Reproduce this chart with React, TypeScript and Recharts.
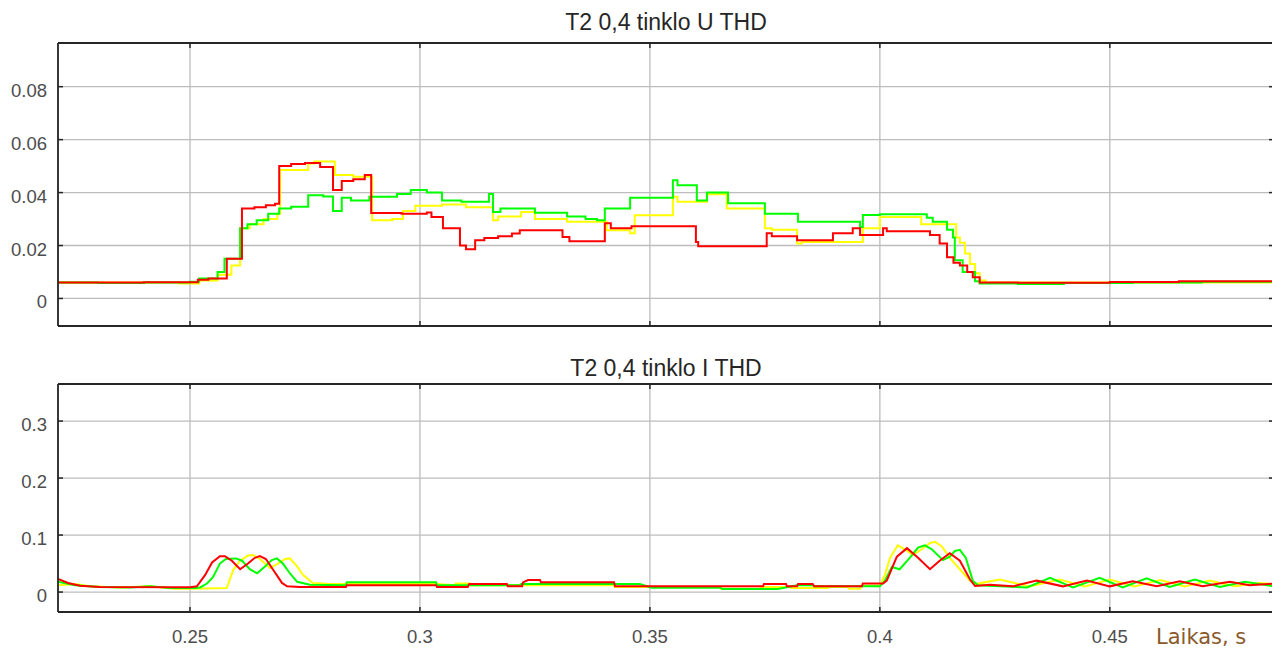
import React from "react";
import { LineChart, Line, XAxis, YAxis, CartesianGrid } from "recharts";

const X_MIN = 0.2213;
const X_MAX = 0.4857;
const X_TICKS = [0.25, 0.3, 0.35, 0.4, 0.45];

const U_Y_DOMAIN = [-0.0104, 0.0965];
const U_Y_TICKS = [0, 0.02, 0.04, 0.06, 0.08];
const I_Y_DOMAIN = [-0.035, 0.365];
const I_Y_TICKS = [0, 0.1, 0.2, 0.3];

const U_TITLE = "T2 0,4 tinklo U THD";
const I_TITLE = "T2 0,4 tinklo I THD";
const X_LABEL = "Laikas, s";

// [time (s), THD] — voltage THD, held between samples
const U_RED = [
  [0.2213, 0.006], [0.24, 0.0061], [0.2517, 0.0071], [0.254, 0.0075], [0.258, 0.015],
  [0.2613, 0.034], [0.264, 0.0345], [0.2665, 0.0352], [0.2685, 0.0358], [0.2694, 0.05],
  [0.272, 0.0508], [0.275, 0.0512], [0.2783, 0.0497], [0.2811, 0.041], [0.283, 0.0444],
  [0.2855, 0.045], [0.288, 0.0466], [0.2894, 0.0323], [0.296, 0.032], [0.3015, 0.0325],
  [0.3025, 0.0308], [0.305, 0.0265], [0.3087, 0.02], [0.31, 0.0186], [0.312, 0.022],
  [0.314, 0.0228], [0.317, 0.0235], [0.32, 0.0245], [0.3217, 0.0258], [0.331, 0.0232],
  [0.3325, 0.0216], [0.3402, 0.0284], [0.3415, 0.0265], [0.346, 0.0273], [0.36, 0.0213],
  [0.3605, 0.0197], [0.3754, 0.0246], [0.3765, 0.0235], [0.382, 0.022], [0.3898, 0.0246],
  [0.3941, 0.0265], [0.3957, 0.024], [0.4007, 0.0265], [0.4015, 0.0254], [0.4109, 0.024],
  [0.413, 0.0208], [0.4146, 0.0156], [0.416, 0.0135], [0.4174, 0.0125], [0.419, 0.01],
  [0.4202, 0.008], [0.4217, 0.006], [0.43, 0.0059], [0.45, 0.0062], [0.465, 0.0065],
  [0.4857, 0.0065],
];

const U_YEL = [
  [0.2213, 0.006], [0.2475, 0.0057], [0.252, 0.0068], [0.256, 0.009], [0.259, 0.0125],
  [0.2609, 0.0265], [0.263, 0.028], [0.266, 0.03], [0.269, 0.032], [0.2696, 0.0485],
  [0.2757, 0.051], [0.277, 0.0517], [0.2815, 0.0466], [0.2855, 0.046], [0.2896, 0.0295],
  [0.294, 0.03], [0.2963, 0.033], [0.299, 0.035], [0.3048, 0.0355], [0.31, 0.0345],
  [0.3159, 0.0295], [0.317, 0.031], [0.322, 0.0327], [0.325, 0.03], [0.332, 0.029],
  [0.3406, 0.0258], [0.3457, 0.0246], [0.3467, 0.0314], [0.355, 0.0384], [0.356, 0.0365],
  [0.3624, 0.0394], [0.3667, 0.034], [0.375, 0.0265], [0.3765, 0.026], [0.382, 0.0208],
  [0.383, 0.0213], [0.3963, 0.0265], [0.4, 0.0308], [0.409, 0.028], [0.4159, 0.028],
  [0.4166, 0.023], [0.4174, 0.021], [0.4185, 0.017], [0.4196, 0.013], [0.4207, 0.0095],
  [0.4217, 0.0068], [0.423, 0.006], [0.4857, 0.006],
];

const U_GRN = [
  [0.2213, 0.006], [0.23, 0.0058], [0.24, 0.006], [0.25, 0.0063], [0.252, 0.0075],
  [0.256, 0.01], [0.2575, 0.015], [0.2609, 0.0265], [0.2625, 0.028], [0.2645, 0.0295],
  [0.267, 0.032], [0.2694, 0.034], [0.272, 0.0346], [0.2757, 0.039], [0.279, 0.0385],
  [0.2811, 0.033], [0.283, 0.038], [0.285, 0.037], [0.289, 0.0384], [0.295, 0.0395],
  [0.298, 0.041], [0.3015, 0.04], [0.3048, 0.037], [0.309, 0.0365], [0.315, 0.0395],
  [0.3159, 0.0327], [0.3175, 0.034], [0.325, 0.0324], [0.332, 0.031], [0.336, 0.03],
  [0.3385, 0.0295], [0.3402, 0.034], [0.3457, 0.038], [0.355, 0.0447], [0.356, 0.0428],
  [0.3602, 0.037], [0.3624, 0.04], [0.367, 0.036], [0.375, 0.032], [0.3822, 0.029],
  [0.3957, 0.027], [0.3963, 0.0315], [0.4, 0.0318], [0.4102, 0.0305], [0.4115, 0.029],
  [0.4146, 0.026], [0.4159, 0.023], [0.4163, 0.0144], [0.418, 0.01], [0.4207, 0.0065],
  [0.4217, 0.0057], [0.43, 0.0055], [0.44, 0.0058], [0.455, 0.006], [0.47, 0.0063],
  [0.4857, 0.0062],
];

// [time (s), THD] — current THD
const I_RED = [
  [0.2213, 0.023], [0.2235, 0.016], [0.2261, 0.011], [0.2304, 0.0088], [0.25, 0.0085],
  [0.2515, 0.01], [0.2533, 0.03], [0.2548, 0.052], [0.2565, 0.063], [0.2576, 0.063],
  [0.2591, 0.055], [0.2609, 0.04], [0.2626, 0.05], [0.2641, 0.06], [0.2652, 0.063],
  [0.2665, 0.058], [0.268, 0.04], [0.27, 0.016], [0.2711, 0.01], [0.2739, 0.009],
  [0.2839, 0.009], [0.2841, 0.012], [0.3035, 0.012], [0.3037, 0.009], [0.3104, 0.009],
  [0.3107, 0.014], [0.3189, 0.014], [0.3191, 0.01], [0.3222, 0.01], [0.3224, 0.017],
  [0.3235, 0.021], [0.3261, 0.021], [0.3263, 0.017], [0.3422, 0.017], [0.3424, 0.01],
  [0.3746, 0.01], [0.3748, 0.014], [0.3796, 0.014], [0.3798, 0.01], [0.382, 0.01],
  [0.3822, 0.014], [0.3854, 0.014], [0.3857, 0.01], [0.3961, 0.01], [0.3963, 0.015],
  [0.4007, 0.015], [0.4015, 0.02], [0.4037, 0.062], [0.4059, 0.077], [0.4083, 0.06],
  [0.4109, 0.04], [0.413, 0.055], [0.4152, 0.068], [0.4174, 0.055], [0.4196, 0.022],
  [0.4207, 0.0105], [0.4239, 0.013], [0.4289, 0.01], [0.4341, 0.02], [0.4398, 0.01],
  [0.445, 0.02], [0.45, 0.01], [0.455, 0.019], [0.4602, 0.01], [0.4652, 0.019],
  [0.4702, 0.01], [0.4761, 0.018], [0.4804, 0.012], [0.4857, 0.015],
];

const I_GRN = [
  [0.2213, 0.018], [0.225, 0.012], [0.2304, 0.009], [0.237, 0.008], [0.2413, 0.01],
  [0.2457, 0.007], [0.2511, 0.007], [0.2522, 0.008], [0.2537, 0.015], [0.255, 0.026],
  [0.2565, 0.05], [0.2578, 0.058], [0.26, 0.059], [0.2613, 0.055], [0.263, 0.04],
  [0.2646, 0.033], [0.2663, 0.045], [0.2678, 0.056], [0.2689, 0.059], [0.2702, 0.05],
  [0.2717, 0.033], [0.2733, 0.018], [0.2761, 0.013], [0.2839, 0.012], [0.2841, 0.017],
  [0.3035, 0.017], [0.3037, 0.012], [0.3217, 0.012], [0.322, 0.014], [0.3478, 0.014],
  [0.3504, 0.0075], [0.3654, 0.0075], [0.3657, 0.0055], [0.3778, 0.0055], [0.382, 0.012],
  [0.3854, 0.012], [0.3857, 0.01], [0.4, 0.01], [0.4011, 0.02], [0.4026, 0.044],
  [0.4043, 0.04], [0.4065, 0.06], [0.4083, 0.078], [0.4098, 0.082], [0.4113, 0.075],
  [0.4137, 0.056], [0.4152, 0.062], [0.4163, 0.072], [0.4174, 0.074], [0.4187, 0.06],
  [0.4202, 0.02], [0.4213, 0.012], [0.4261, 0.01], [0.432, 0.008], [0.437, 0.025],
  [0.442, 0.008], [0.4478, 0.025], [0.4528, 0.008], [0.458, 0.024], [0.463, 0.009],
  [0.4685, 0.022], [0.4739, 0.009], [0.4794, 0.018], [0.4857, 0.01],
];

const I_YEL = [
  [0.2213, 0.012], [0.225, 0.014], [0.2283, 0.01], [0.2348, 0.008], [0.2413, 0.01],
  [0.2467, 0.006], [0.25, 0.006], [0.258, 0.007], [0.2594, 0.039], [0.2609, 0.055],
  [0.2626, 0.064], [0.2637, 0.065], [0.2652, 0.058], [0.2674, 0.042], [0.2691, 0.05],
  [0.2707, 0.058], [0.2717, 0.059], [0.2733, 0.045], [0.2746, 0.03], [0.2767, 0.016],
  [0.2804, 0.014], [0.3035, 0.014], [0.3076, 0.012], [0.3078, 0.015], [0.3109, 0.015],
  [0.3111, 0.012], [0.3422, 0.012], [0.3424, 0.009], [0.3652, 0.009], [0.3654, 0.006],
  [0.3739, 0.006], [0.3741, 0.009], [0.3804, 0.009], [0.3807, 0.007], [0.3887, 0.007],
  [0.3891, 0.009], [0.393, 0.009], [0.3933, 0.006], [0.3957, 0.006], [0.3959, 0.011],
  [0.4, 0.011], [0.4011, 0.03], [0.4022, 0.06], [0.4039, 0.082], [0.4054, 0.075],
  [0.4072, 0.065], [0.4091, 0.075], [0.4109, 0.086], [0.412, 0.088], [0.4135, 0.08],
  [0.4152, 0.06], [0.4174, 0.04], [0.4196, 0.02], [0.4207, 0.014], [0.4261, 0.022],
  [0.4326, 0.01], [0.4391, 0.022], [0.4446, 0.01], [0.45, 0.022], [0.4554, 0.01],
  [0.4609, 0.021], [0.4663, 0.01], [0.4717, 0.02], [0.4772, 0.01], [0.4826, 0.016],
  [0.4857, 0.014],
];

const FRAME = "#262626";
const GRID = "#bdbdbd";
const TICK_TEXT = "#4d4d4d";
const FONT = "'Liberation Sans', Arial, sans-serif";
const RED = "#ff0000";
const GREEN = "#00ff00";
const YELLOW = "#ffff00";

const toRows = (pts: number[][]) => pts.map(([t, v]) => ({ t, v }));

// matlab-style ticks point into the plot
function LeftTick(props: any) {
  const { x, y, payload } = props;
  return (
    <g>
      <line x1={x} x2={x + 5} y1={y} y2={y} stroke={FRAME} strokeWidth={1.5} />
      <text x={x - 11} y={y + 10} textAnchor="end" fontSize={18.5} fill={TICK_TEXT} fontFamily={FONT}>
        {String(payload.value)}
      </text>
    </g>
  );
}

function RightTick(props: any) {
  const { x, y } = props;
  return <line x1={x - 5} x2={x} y1={y} y2={y} stroke={FRAME} strokeWidth={1.5} />;
}

function TopTick(props: any) {
  const { x, y } = props;
  return <line x1={x} x2={x} y1={y} y2={y + 5} stroke={FRAME} strokeWidth={1.5} />;
}

function BottomTick(props: any) {
  const { x, y } = props;
  return <line x1={x} x2={x} y1={y - 5} y2={y} stroke={FRAME} strokeWidth={1.5} />;
}

function BottomLabelTick(props: any) {
  const { x, y, payload } = props;
  return (
    <g>
      <line x1={x} x2={x} y1={y - 5} y2={y} stroke={FRAME} strokeWidth={1.5} />
      <text x={x} y={y + 31} textAnchor="middle" fontSize={18.5} fill={TICK_TEXT} fontFamily={FONT}>
        {String(payload.value)}
      </text>
    </g>
  );
}

function Panel(props: {
  width: number;
  height: number;
  margin: { top: number; right: number; bottom: number; left: number };
  yDomain: number[];
  yTicks: number[];
  series: { pts: number[][]; color: string; step: boolean }[];
  xLabels: boolean;
}) {
  const { width, height, margin, yDomain, yTicks, series, xLabels } = props;
  const axisLine = { stroke: FRAME, strokeWidth: 1.8 };
  return (
    <LineChart width={width} height={height} margin={margin}>
      <CartesianGrid stroke={GRID} strokeWidth={1.3} />
      <XAxis
        type="number"
        dataKey="t"
        domain={[X_MIN, X_MAX]}
        ticks={X_TICKS}
        interval={0}
        allowDataOverflow
        height={xLabels ? 38 : 1}
        stroke={FRAME}
        tickSize={0}
        tickMargin={0}
        tickLine={false}
        axisLine={axisLine}
        tick={xLabels ? <BottomLabelTick /> : <BottomTick />}
      />
      <XAxis
        xAxisId="top"
        orientation="top"
        type="number"
        dataKey="t"
        domain={[X_MIN, X_MAX]}
        ticks={X_TICKS}
        interval={0}
        allowDataOverflow
        height={1}
        stroke={FRAME}
        tickSize={0}
        tickMargin={0}
        tickLine={false}
        axisLine={axisLine}
        tick={<TopTick />}
      />
      <YAxis
        type="number"
        domain={yDomain}
        ticks={yTicks}
        interval={0}
        allowDataOverflow
        width={58}
        stroke={FRAME}
        tickSize={0}
        tickMargin={0}
        tickLine={false}
        axisLine={axisLine}
        tick={<LeftTick />}
      />
      <YAxis
        yAxisId="right"
        orientation="right"
        type="number"
        domain={yDomain}
        ticks={yTicks}
        interval={0}
        allowDataOverflow
        width={1}
        stroke={FRAME}
        tickSize={0}
        tickMargin={0}
        tickLine={false}
        axisLine={axisLine}
        tick={<RightTick />}
      />
      {series.map((s, i) => (
        <Line
          key={i}
          data={toRows(s.pts)}
          dataKey="v"
          type={s.step ? "stepAfter" : "linear"}
          stroke={s.color}
          strokeWidth={2}
          dot={false}
          activeDot={false}
          isAnimationActive={false}
        />
      ))}
    </LineChart>
  );
}

export default function App() {
  return (
    <div
      style={{
        position: "absolute",
        left: 0,
        top: 0,
        width: 1272,
        height: 650,
        overflow: "hidden",
        background: "#fff",
      }}
    >
      <div style={{ position: "absolute", left: 0, top: 0 }}>
        <Panel
          width={1281}
          height={327}
          margin={{ top: 42, right: 6, bottom: 0, left: 0 }}
          yDomain={U_Y_DOMAIN}
          yTicks={U_Y_TICKS}
          xLabels={false}
          series={[
            { pts: U_YEL, color: YELLOW, step: true },
            { pts: U_GRN, color: GREEN, step: true },
            { pts: U_RED, color: RED, step: true },
          ]}
        />
      </div>
      <div style={{ position: "absolute", left: 0, top: 340 }}>
        <Panel
          width={1281}
          height={310}
          margin={{ top: 43, right: 6, bottom: 0, left: 0 }}
          yDomain={I_Y_DOMAIN}
          yTicks={I_Y_TICKS}
          xLabels={true}
          series={[
            { pts: I_YEL, color: YELLOW, step: false },
            { pts: I_GRN, color: GREEN, step: false },
            { pts: I_RED, color: RED, step: false },
          ]}
        />
      </div>
      <svg
        width={1272}
        height={650}
        style={{ position: "absolute", left: 0, top: 0, pointerEvents: "none" }}
      >
        <text x={666} y={30} textAnchor="middle" fontSize={23} fill="#262626" fontFamily={FONT}>
          {U_TITLE}
        </text>
        <text x={666} y={376} textAnchor="middle" fontSize={23} fill="#262626" fontFamily={FONT}>
          {I_TITLE}
        </text>
        <text x={1156} y={644} fontSize={21} fill="#8a5a2b" fontFamily="'DejaVu Sans', sans-serif">
          {X_LABEL}
        </text>
      </svg>
    </div>
  );
}
